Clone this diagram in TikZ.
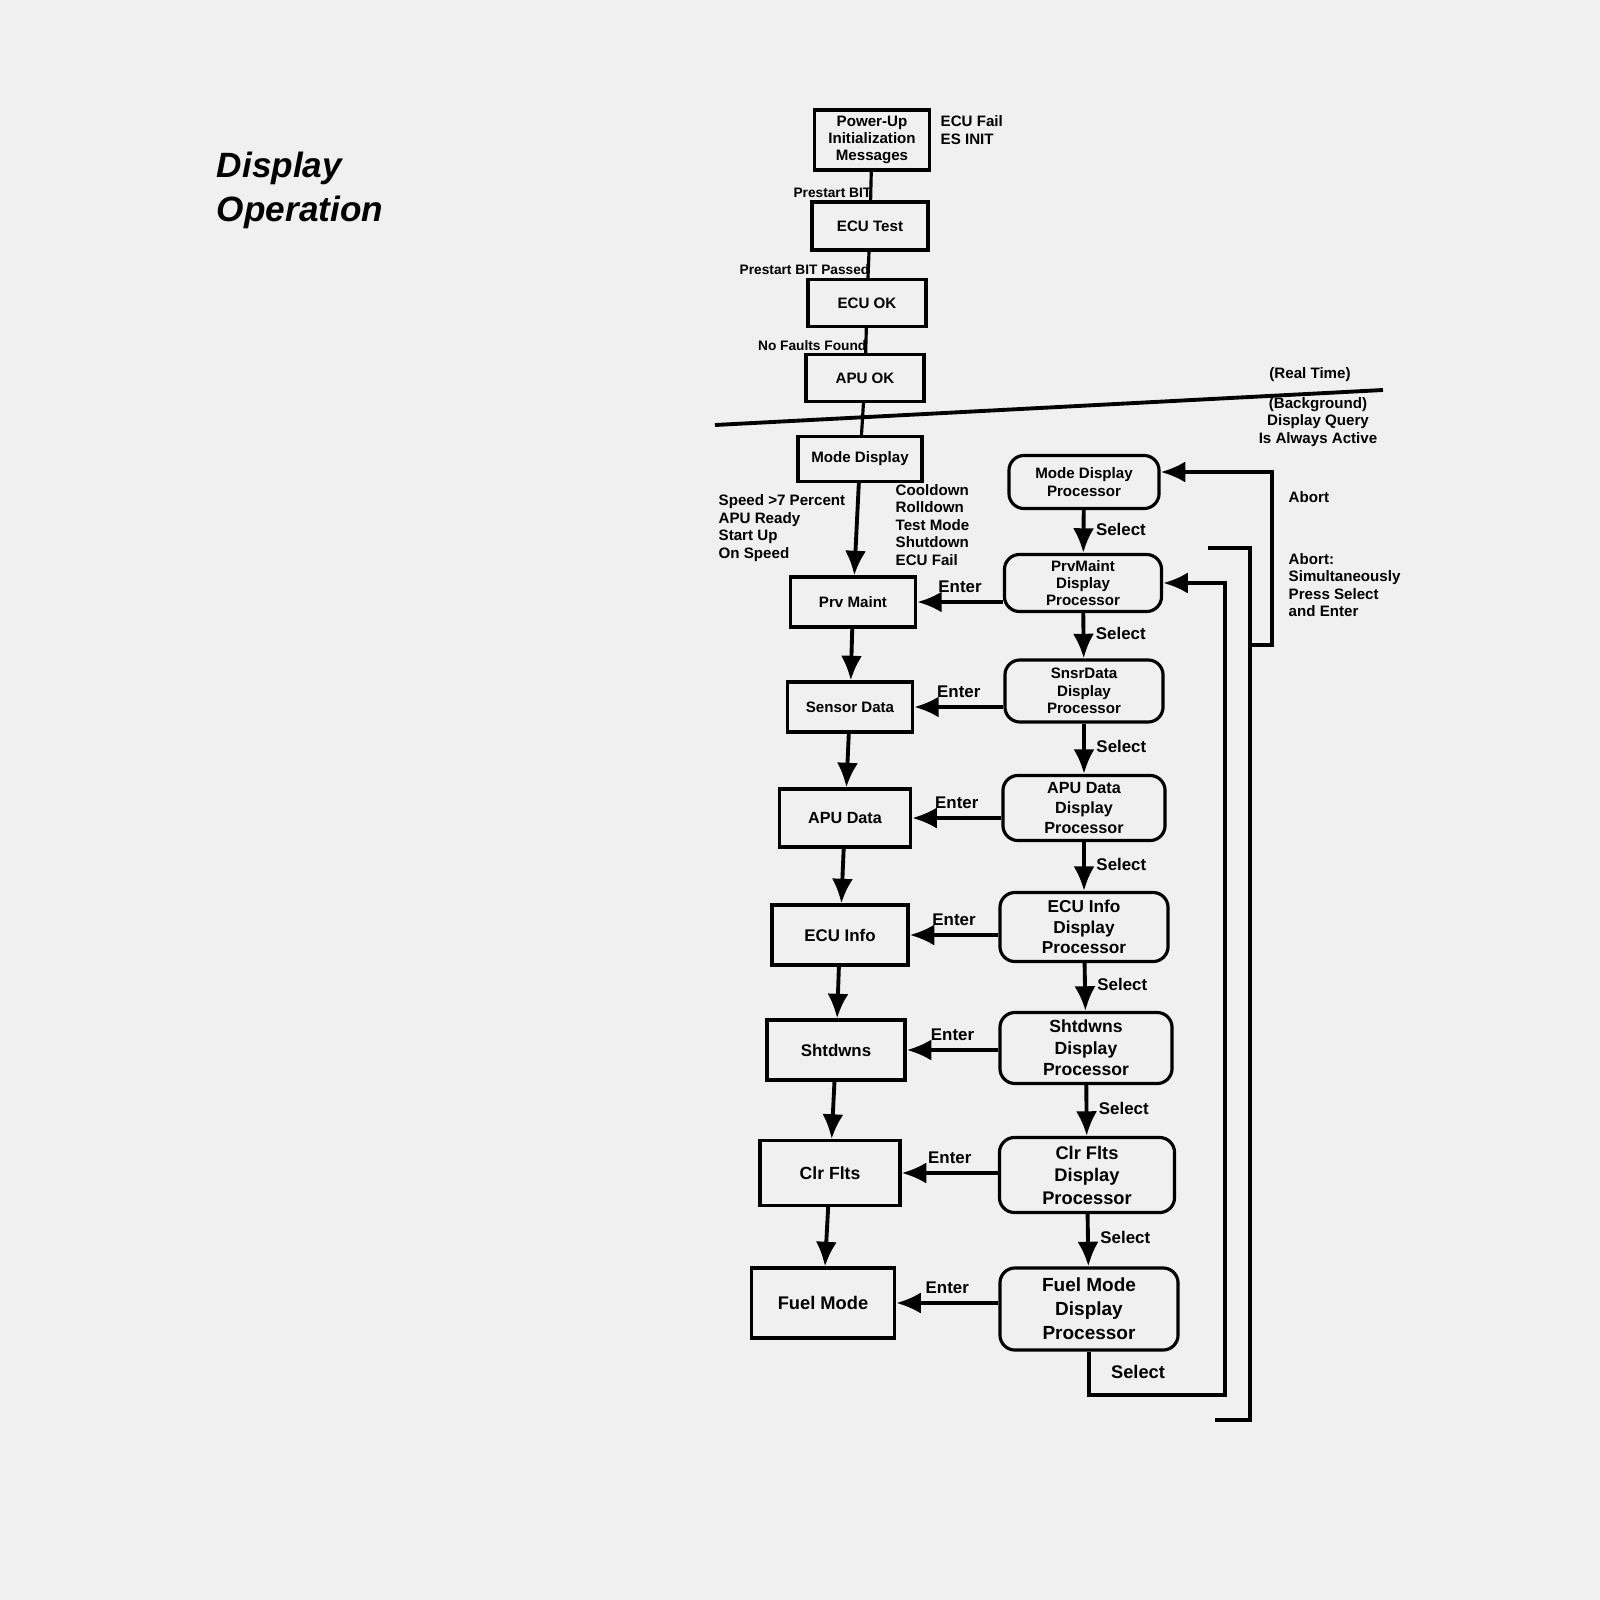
\documentclass[tikz,border=0pt]{standalone}
\usepackage{fontspec}
\setmainfont{Liberation Sans}
\usetikzlibrary{arrows.meta}
\usetikzlibrary{positioning}
\tikzstyle{blk}=[draw=black, line width=0.9pt, align=center, inner sep=0pt,
    font=\fontsize{4.3}{4.9}\selectfont\bfseries]
\tikzstyle{proc}=[blk, rounded corners=0.15cm]
\tikzstyle{lbl}=[align=left, inner sep=0pt, font=\fontsize{4.3}{5}\selectfont\bfseries]
\tikzstyle{flow}=[line width=1.1pt, -{Latex[length=7pt,width=6pt]}]

\begin{document}
\begin{tikzpicture}[x=0.01cm, y=-0.01cm]
          \fill[black!6] (0,0) rectangle (1600,1600);
          \node[lbl, font=\fontsize{10}{12.5}\selectfont\bfseries\itshape] (title) at (300,190){Display\\Operation};
          % main column
          \node[blk, minimum width=1.15cm, minimum height=0.6cm] (pwr) at (872,140){Power-Up\\Initialization\\Messages};
          \node[blk, minimum width=1.16cm, minimum height=0.48cm] (ecutest) at (870,226){ECU Test};
          \node[blk, minimum width=1.18cm, minimum height=0.47cm] (ecuok) at (867,303){ECU OK};
          \node[blk, minimum width=1.18cm, minimum height=0.47cm] (apuok) at (865,378){APU OK};
          \node[blk, minimum width=1.24cm, minimum height=0.45cm] (mode) at (860,459){Mode Display};
          \node[blk, minimum width=1.25cm, minimum height=0.5cm] (prv) at (853,602){Prv Maint};
          \node[blk, minimum width=1.25cm, minimum height=0.5cm] (sens) at (850,707){Sensor Data};
          \node[blk, minimum width=1.31cm, minimum height=0.58cm, font=\fontsize{4.6}{5}\selectfont\bfseries] (apud) at (845,818){APU Data};
          \node[blk, minimum width=1.36cm, minimum height=0.6cm, font=\fontsize{4.8}{5.4}\selectfont\bfseries] (ecui) at (840,935){ECU Info};
          \node[blk, minimum width=1.38cm, minimum height=0.6cm, font=\fontsize{4.8}{5.4}\selectfont\bfseries] (shd) at (836,1050){Shtdwns};
          \node[blk, minimum width=1.4cm, minimum height=0.65cm, font=\fontsize{5}{5.8}\selectfont\bfseries] (clr) at (830,1173){Clr Flts};
          \node[blk, minimum width=1.43cm, minimum height=0.7cm, font=\fontsize{5.2}{6}\selectfont\bfseries] (fuel) at (823,1303){Fuel Mode};
          % processors
          \node[proc, minimum width=1.5cm, minimum height=0.53cm] (pmode) at (1084,482){Mode Display\\Processor};
          \node[proc, minimum width=1.57cm, minimum height=0.57cm] (pprv) at (1083,583){PrvMaint\\Display\\Processor};
          \node[proc, minimum width=1.58cm, minimum height=0.62cm] (psens) at (1084,691){SnsrData\\Display\\Processor};
          \node[proc, minimum width=1.62cm, minimum height=0.65cm, font=\fontsize{4.6}{5.6}\selectfont\bfseries] (papu) at (1084,808){APU Data\\Display\\Processor};
          \node[proc, minimum width=1.68cm, minimum height=0.69cm, font=\fontsize{4.9}{5.9}\selectfont\bfseries] (pecu) at (1084,927){ECU Info\\Display\\Processor};
          \node[proc, minimum width=1.72cm, minimum height=0.71cm, font=\fontsize{5}{6.1}\selectfont\bfseries] (pshd) at (1086,1048){Shtdwns\\Display\\Processor};
          \node[proc, minimum width=1.75cm, minimum height=0.75cm, font=\fontsize{5.2}{6.4}\selectfont\bfseries] (pclr) at (1087,1175){Clr Flts\\Display\\Processor};
          \node[proc, minimum width=1.78cm, minimum height=0.82cm, font=\fontsize{5.4}{6.8}\selectfont\bfseries] (pfuel) at (1089,1309){Fuel Mode\\Display\\Processor};
          % texts
          \node[lbl, anchor=west] (ecufail) at (940,130){ECU Fail\\ES INIT};
          \node[lbl, anchor=east, font=\fontsize{3.9}{4.5}\selectfont\bfseries] (bit) at (872,193){Prestart BIT};
          \node[lbl, anchor=east, font=\fontsize{3.9}{4.5}\selectfont\bfseries] (bitok) at (870,270){Prestart BIT Passed};
          \node[lbl, anchor=east, font=\fontsize{3.9}{4.5}\selectfont\bfseries] (nofault) at (867,346){No Faults Found};
          \node[lbl, align=center] (realtime) at (1310,375){(Real Time)};
          \node[lbl, align=center] (backgr) at (1318,422){(Background)\\Display Query\\Is Always Active};
          \node[lbl, anchor=west] (speed) at (718,528){Speed >7 Percent\\APU Ready\\Start Up\\On Speed};
          \node[lbl, anchor=west] (cool) at (895,525){Cooldown\\Rolldown\\Test Mode\\Shutdown\\ECU Fail};
          \node[lbl, anchor=west] (abort) at (1288,497){Abort};
          \node[lbl, anchor=west] (abort2) at (1288,585){Abort:\\Simultaneously\\Press Select\\and Enter};
          % real time / background divider
          \coordinate (divl) at (715,425);
          \coordinate (divr) at (1383,390);
          \draw[line width=1.1pt](divl) -- (divr);
          \draw[line width=0.9pt](pwr) -- (ecutest);
          \draw[line width=0.9pt](ecutest) -- (ecuok);
          \draw[line width=0.9pt](ecuok) -- (apuok);
          \draw[line width=0.9pt](apuok) -- (mode);
          \draw[flow](mode) -- (prv);
          \draw[flow](prv) -- (sens);
          \draw[flow](sens) -- (apud);
          \draw[flow](apud) -- (ecui);
          \draw[flow](ecui) -- (shd);
          \draw[flow](shd) -- (clr);
          \draw[flow](clr) -- (fuel);
          % select arrows
          \foreach \a/\b in {pmode/pprv, pprv/psens, psens/papu, papu/pecu, pecu/pshd, pshd/pclr, pclr/pfuel}
            \draw[flow](\a) -- node[lbl, right=3pt, pos=0.45, font=\fontsize{4.8}{5.4}\selectfont\bfseries]{Select} (\b);
          % enter arrows
          \foreach \a/\b in {pprv/prv, psens/sens, papu/apud, pecu/ecui, pshd/shd, pclr/clr, pfuel/fuel}
            \draw[flow](\a.west |- \b.east) -- node[lbl, above=2pt, font=\fontsize{4.8}{5.4}\selectfont\bfseries]{Enter} (\b.east);
          % return paths
          \coordinate (selb) at (1089,1395);
          \coordinate (selr) at (1225,1395);
          \coordinate (selt) at (1225,583);
          \draw[flow](pfuel) -- (selb) -- (selr) -- (selt) -- (pprv);
          \node[lbl, font=\fontsize{5.2}{6}\selectfont\bfseries] (selfuel) at (1138,1372){Select};
          \coordinate (brtl) at (1208,548);
          \coordinate (brtr) at (1250,548);
          \coordinate (brbr) at (1250,1420);
          \coordinate (brbl) at (1215,1420);
          \draw[line width=1.1pt](brtl) -- (brtr) -- (brbr) -- (brbl);
          \coordinate (abb) at (1250,645);
          \coordinate (abr) at (1272,645);
          \coordinate (abt) at (1272,472);
          \draw[flow](abb) -- (abr) -- (abt) -- (abt -| pmode.east);
\end{tikzpicture}
\end{document}
